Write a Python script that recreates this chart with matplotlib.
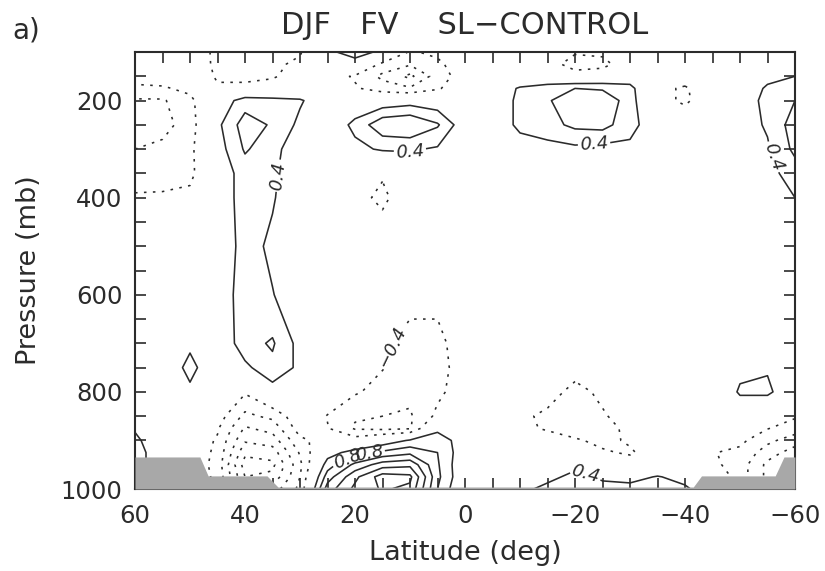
import numpy as np
import matplotlib.pyplot as plt
from matplotlib.ticker import MultipleLocator

# zonal-mean difference field, SL minus CONTROL, DJF
lats = [60, 55, 50, 45, 40, 35, 30, 25, 20, 15, 10, 5, 0,
        -5, -10, -15, -20, -25, -30, -35, -40, -45, -50, -55, -60]
levs = [100, 125, 150, 175, 200, 250, 300, 350, 400, 500, 600,
        700, 750, 800, 850, 875, 900, 925, 950, 975, 1000]

# one row per pressure level, latitudes from 60N to 60S
diff = [
    [0.0, 0.0, 0.0, -0.55, -0.6, -0.6, -0.45, 0.3, 0.6, 0.3, -0.45, -0.3, 0.0, 0.0, 0.0, 0.0, -0.35, -0.3, 0.0, 0.0, 0.0, 0.0, 0.1, 0.2, 0.2],
    [-0.1, -0.1, -0.1, -0.5, -0.5, -0.5, -0.3, 0.1, 0.2, -0.5, -0.75, -0.5, -0.1, 0.0, 0.0, -0.2, -0.6, -0.55, -0.1, 0.0, -0.1, 0.0, 0.1, 0.25, 0.3],
    [-0.2, -0.2, -0.1, -0.45, -0.6, -0.45, -0.2, -0.2, -0.45, -0.9, -1.3, -0.6, -0.2, 0.0, 0.0, 0.0, -0.2, -0.1, 0.1, 0.0, -0.2, 0.0, 0.1, 0.3, 0.4],
    [-0.5, -0.45, -0.3, -0.35, -0.2, -0.2, 0.0, -0.1, -0.35, -0.6, -0.75, -0.45, -0.1, 0.1, 0.45, 0.6, 0.8, 0.75, 0.55, -0.3, -0.45, -0.1, 0.15, 0.45, 0.55],
    [-0.85, -0.85, -0.5, 0.1, 0.6, 0.55, 0.45, 0.1, 0.1, 0.1, 0.2, 0.1, 0.0, 0.1, 0.5, 0.75, 1.1, 1.1, 0.6, -0.3, -0.45, -0.2, 0.2, 0.5, 0.8],
    [-0.95, -0.95, -0.6, 0.3, 1.0, 0.75, 0.3, 0.1, 0.5, 1.1, 1.2, 0.85, 0.1, 0.1, 0.5, 0.65, 0.9, 0.95, 0.55, 0.1, -0.2, 0.0, 0.2, 0.45, 1.0],
    [-0.8, -0.7, -0.5, 0.2, 0.85, 0.55, 0.1, 0.0, 0.3, 0.45, 0.45, 0.35, 0.1, 0.0, 0.2, 0.25, 0.3, 0.25, 0.3, 0.0, 0.0, 0.0, 0.1, 0.35, 0.9],
    [-0.6, -0.55, -0.5, 0.1, 0.6, 0.5, 0.0, 0.0, 0.0, -0.35, 0.0, 0.1, 0.0, 0.0, 0.0, 0.1, 0.1, 0.1, 0.1, 0.0, 0.0, 0.0, 0.0, 0.25, 0.6],
    [-0.35, -0.35, -0.3, 0.1, 0.6, 0.45, 0.0, 0.0, -0.25, -0.5, -0.1, 0.0, 0.0, 0.0, 0.0, 0.0, 0.0, 0.0, 0.0, 0.0, 0.0, 0.0, 0.0, 0.1, 0.4],
    [-0.1, 0.0, 0.0, 0.0, 0.6, 0.3, 0.0, 0.0, 0.0, -0.1, 0.0, 0.0, 0.0, 0.0, 0.0, 0.0, 0.0, 0.0, 0.0, 0.0, 0.0, 0.0, 0.0, 0.0, 0.2],
    [0.0, 0.0, 0.0, 0.0, 0.7, 0.42, 0.1, 0.0, 0.0, -0.1, -0.25, -0.3, -0.1, 0.0, 0.0, 0.0, 0.0, 0.0, 0.0, 0.0, 0.0, 0.0, 0.0, 0.0, 0.1],
    [0.0, 0.0, 0.3, 0.0, 0.65, 0.85, 0.25, 0.0, -0.1, -0.3, -0.55, -0.5, -0.2, 0.0, 0.0, 0.0, 0.0, 0.0, 0.0, 0.0, 0.0, 0.0, 0.1, 0.1, 0.0],
    [0.0, 0.0, 0.55, 0.0, 0.3, 0.7, 0.3, 0.0, -0.15, -0.38, -0.6, -0.55, -0.2, 0.0, 0.0, 0.0, -0.2, 0.0, 0.0, 0.0, 0.0, 0.0, 0.3, 0.35, 0.0],
    [0.0, 0.0, 0.3, 0.0, -0.35, 0.2, 0.0, -0.1, -0.35, -0.55, -0.7, -0.5, -0.15, 0.0, 0.0, -0.2, -0.55, -0.3, 0.0, 0.0, 0.0, 0.0, 0.45, 0.5, 0.0],
    [0.2, 0.0, 0.0, -0.2, -0.9, -0.7, -0.1, -0.42, -0.75, -0.8, -0.85, -0.3, 0.0, 0.0, -0.3, -0.5, -0.7, -0.45, -0.2, 0.0, 0.0, 0.0, 0.1, -0.2, -0.35],
    [0.35, 0.0, -0.1, -0.35, -1.25, -1.05, -0.2, -0.38, -0.85, -0.9, -0.85, 0.3, 0.1, 0.0, -0.3, -0.45, -0.6, -0.55, -0.3, 0.0, 0.0, -0.1, -0.2, -0.38, -0.6],
    [0.5, 0.05, -0.1, -0.45, -1.55, -1.4, -0.5, -0.2, -0.2, 0.1, 0.45, 0.6, 0.2, 0.0, 0.0, -0.2, -0.35, -0.5, -0.35, 0.0, 0.0, -0.2, -0.3, -0.7, -1.0],
    [0.6, 0.1, -0.1, -0.5, -1.9, -1.8, -0.75, 0.2, 0.6, 0.9, 1.1, 0.8, 0.1, 0.0, 0.0, 0.0, 0.0, -0.35, -0.45, -0.2, 0.0, -0.38, -0.5, -1.0, -1.4],
    [0.6, 0.1, -0.1, -0.55, -2.2, -2.1, -0.9, 0.6, 1.3, 1.8, 1.9, 0.85, 0.0, 0.0, 0.0, 0.1, 0.3, 0.1, -0.2, 0.1, 0.1, -0.3, -0.6, -1.3, -1.7],
    [0.5, 0.1, -0.1, -0.5, -2.0, -1.9, -0.8, 1.0, 1.9, 2.6, 2.5, 0.9, 0.0, 0.0, 0.1, 0.3, 0.5, 0.35, 0.3, 0.42, 0.3, 0.0, -0.6, -1.3, -1.7],
    [0.3, 0.1, -0.1, -0.35, -1.6, -1.4, -0.7, 1.4, 2.1, 2.45, 2.3, 0.8, -0.1, 0.0, 0.3, 0.5, 0.55, 0.5, 0.5, 0.5, 0.45, 0.2, -0.5, -1.2, -1.6],
]

# surface pressure (mb) along the bottom, for the grey topography
topo_lat = [60, 48.2, 46.7, 36.0, 34.0, -41.5, -43.0, -56.4, -58.0, -60]
topo_ps = [934, 934, 973, 973, 996, 996, 973, 973, 934, 934]

clevs = [-2.4, -2.0, -1.6, -1.2, -0.8, -0.4, 0.4, 0.8, 1.2, 1.6, 2.0, 2.4]

ink = '#2b2b2b'
plt.rcParams['font.family'] = 'DejaVu Sans'

fig = plt.figure(figsize=(8.25, 5.71), dpi=100)
ax = fig.add_axes([135 / 825, 1 - 489 / 571, 660 / 825, 437 / 571])

styles = [(0, (1.6, 4.0)) if c < 0 else 'solid' for c in clevs]
cs = ax.contour(lats, levs, np.array(diff), levels=clevs, colors=ink,
                linewidths=1.15, linestyles=styles, zorder=2)


def fmt(v):
    return f'{v:.1f}'.replace('-', '\u2212')


spots = [(33.8, 355), (10, 305), (-23.5, 298), (-57, 312), (11.8, 714),
         (-21.8, 972), (21.5, 935), (17.5, 925)]
labels = ax.clabel(cs, manual=spots, fmt=fmt, fontsize=13, inline=True,
                   inline_spacing=2, colors=ink)
for t in labels:
    t.set_fontstyle('italic')

ax.fill_between(topo_lat, topo_ps, 1000, color='#a8a8a8', lw=0, zorder=3)

ax.set_xlim(60, -60)
ax.set_ylim(1000, 100)
ax.set_xticks([60, 40, 20, 0, -20, -40, -60])
ax.xaxis.set_minor_locator(MultipleLocator(5))
ax.set_yticks([200, 400, 600, 800, 1000])
ax.yaxis.set_minor_locator(MultipleLocator(50))
ax.tick_params(which='both', direction='in', length=8, width=1.2,
               top=True, right=True, colors=ink, labelsize=17.5)
ax.tick_params(axis='x', pad=11)
ax.tick_params(axis='y', pad=9)
for s in ax.spines.values():
    s.set_linewidth(1.5)
    s.set_color(ink)

ax.set_xlabel('Latitude (deg)', fontsize=19.5, color=ink)
ax.set_ylabel('Pressure (mb)', fontsize=19.5, color=ink)
ax.xaxis.set_label_coords(0.5, -(540 - 489) / 437)
ax.yaxis.set_label_coords(-(135 - 42) / 660, 0.5)

fig.text(465 / 825, 1 - 34 / 571, 'DJF   FV    SL\u2212CONTROL', fontsize=22,
         ha='center', va='baseline', color=ink)
fig.text(12 / 825, 1 - 38 / 571, 'a)', fontsize=20, ha='left',
         va='baseline', color=ink)

fig.savefig('out.png', dpi=100)
